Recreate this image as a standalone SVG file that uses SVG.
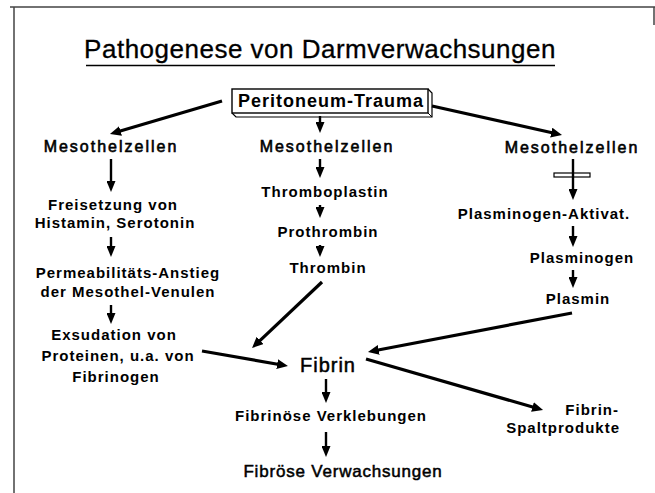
<svg xmlns="http://www.w3.org/2000/svg" width="655" height="493" viewBox="0 0 655 493">
<style>
text{font-family:"Liberation Sans",Arial,Helvetica,sans-serif;fill:#000;text-anchor:middle}
.t{font-size:26px;letter-spacing:0.5px;stroke:#000;stroke-width:0.3px}
.b{font-size:15px;font-weight:bold;letter-spacing:1px}
.m{font-size:16px;letter-spacing:2px;stroke:#000;stroke-width:0.6px}
.f{font-size:20px;letter-spacing:1px;stroke:#000;stroke-width:0.5px}
.fv{font-size:17px;letter-spacing:0.8px;stroke:#000;stroke-width:0.5px}
.pt{font-size:18px;font-weight:bold;letter-spacing:1px}
.c line{stroke:#000;stroke-width:3.2px;fill:none}
.c line.v{stroke-width:2.4px;marker-end:url(#as)}
.c line.d{marker-end:url(#ah)}
.frame{stroke:#444;stroke-width:1.5px;fill:none}
</style>
<defs>
<marker id="ah" markerUnits="userSpaceOnUse" markerWidth="12" markerHeight="10" refX="2" refY="5" orient="auto">
<path d="M0,0 L11,5 L0,10 z" fill="#000"/>
</marker>
<marker id="as" markerUnits="userSpaceOnUse" markerWidth="11" markerHeight="9" refX="2" refY="4.5" orient="auto">
<path d="M0,0 L11,4.5 L0,9 z" fill="#000"/>
</marker>
</defs>
<g id="frame">
<path class="frame" d="M10,7 H655 M14,7 V493 M654,7 V25"/>
</g>
<g id="title">
<text class="t" x="320" y="58">Pathogenese von Darmverwachsungen</text>
<line x1="86" y1="65.5" x2="555" y2="65.5" stroke="#000" stroke-width="1.6"/>
</g>
<g id="trauma">
<path d="M232,113 L236,117 H432 V93 L428,89" fill="#fff" stroke="#000" stroke-width="1.2"/>
<line x1="428" y1="113" x2="432" y2="117" stroke="#000" stroke-width="1"/>
<rect x="232" y="89" width="196" height="24" fill="#fff" stroke="#000" stroke-width="1.4"/>
<text class="pt" x="331" y="107">Peritoneum-Trauma</text>
</g>
<g id="meso-left"><text class="m" x="111" y="152">Mesothelzellen</text></g>
<g id="meso-mid"><text class="m" x="327" y="152">Mesothelzellen</text></g>
<g id="meso-right"><text class="m" x="572" y="153">Mesothelzellen</text></g>
<g id="freisetzung"><text class="b" x="113" y="210">Freisetzung von</text><text class="b" x="115" y="228">Histamin, Serotonin</text></g>
<g id="permeab"><text class="b" x="128" y="278">Permeabilitäts-Anstieg</text><text class="b" x="128" y="297">der Mesothel-Venulen</text></g>
<g id="exsudation"><text class="b" x="114" y="340">Exsudation von</text><text class="b" x="118" y="361">Proteinen, u.a. von</text><text class="b" x="116" y="382">Fibrinogen</text></g>
<g id="thromboplastin"><text class="b" x="325" y="197">Thromboplastin</text></g>
<g id="prothrombin"><text class="b" x="328" y="237">Prothrombin</text></g>
<g id="thrombin"><text class="b" x="328" y="273">Thrombin</text></g>
<g id="pa"><text class="b" x="544" y="219">Plasminogen-Aktivat.</text></g>
<g id="plasminogen"><text class="b" x="582" y="263">Plasminogen</text></g>
<g id="plasmin"><text class="b" x="578" y="304">Plasmin</text></g>
<g id="fibrin"><text class="f" x="328" y="372">Fibrin</text></g>
<g id="verklebungen"><text class="b" x="331" y="421">Fibrinöse Verklebungen</text></g>
<g id="verwachsungen"><text class="fv" x="343" y="477">Fibröse Verwachsungen</text></g>
<g id="spalt"><text class="b" x="619" y="415" style="text-anchor:end">Fibrin-</text><text class="b" x="620" y="433" style="text-anchor:end">Spaltprodukte</text></g>
<g id="connectors" class="c">
<line class="d" x1="222" y1="101" x2="118.6" y2="131.5"/>
<line class="v" x1="320" y1="116" x2="320" y2="124"/>
<line class="d" x1="432" y1="106" x2="553.2" y2="133"/>
<line class="v" x1="111" y1="159" x2="111" y2="183"/>
<line class="v" x1="111" y1="237" x2="111" y2="248"/>
<line class="v" x1="111" y1="305" x2="111" y2="315"/>
<line class="v" x1="320" y1="159" x2="320" y2="169"/>
<line class="v" x1="320" y1="205" x2="320" y2="209"/>
<line class="v" x1="320" y1="245" x2="320" y2="248"/>
<rect x="554" y="173" width="36" height="4" fill="#fff" stroke="#000" stroke-width="1.2"/>
<line class="v" x1="573" y1="159" x2="573" y2="191"/>
<line class="v" x1="573" y1="226" x2="573" y2="238"/>
<line class="v" x1="573" y1="270" x2="573" y2="279"/>
<line class="d" x1="322" y1="282" x2="258.6" y2="341.8"/>
<line class="d" x1="572" y1="313" x2="376.8" y2="350.3"/>
<line class="d" x1="202" y1="351" x2="279.1" y2="364.5"/>
<line class="d" x1="366" y1="359" x2="534.4" y2="407.5"/>
<line class="v" x1="326" y1="379" x2="326" y2="394"/>
<line class="v" x1="326" y1="432" x2="326" y2="448"/>
</g>
</svg>
